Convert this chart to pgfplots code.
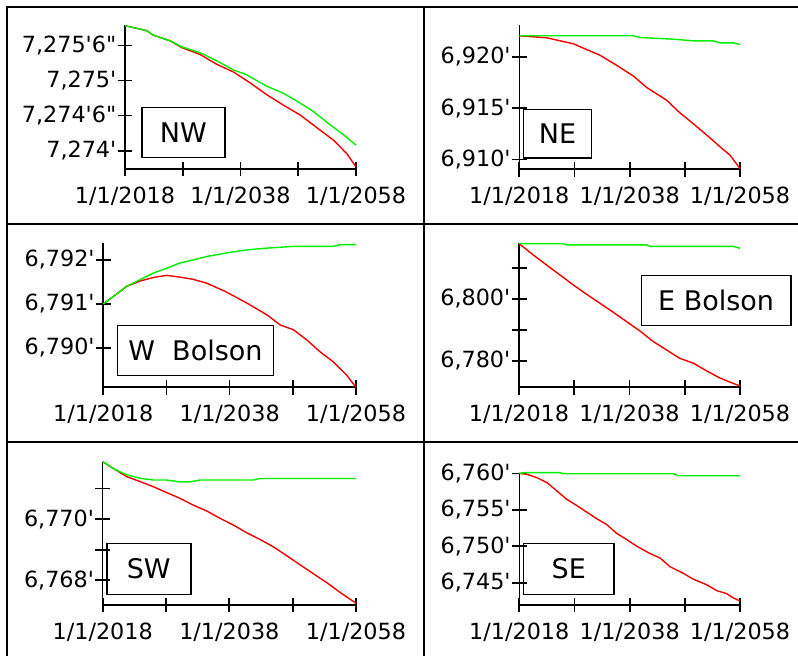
\documentclass[border=0pt]{standalone}
\usepackage{pgfplots}
\pgfplotsset{compat=1.18}
\usepackage{fontspec}
\newfontfamily\df{DejaVu Sans}
\definecolor{lgreen}{RGB}{0,240,0}
\definecolor{lred}{RGB}{245,0,0}
\pgfplotsset{
  panel/.style={
    scale only axis,
    anchor=south west,
    axis x line*=bottom, axis y line*=left,
    xmin=2018, xmax=2058,
    xtick={2018,2028,2038,2048,2058},
    xticklabels={1/1/2018,,1/1/2038,,1/1/2058},
    extra x ticks={2018,2028,2038,2048,2058},
    extra x tick labels={},
    extra x tick style={tick align=inside},
    extra y tick style={tick align=inside},
    tick align=outside,
    major tick length=7.5pt,
    every tick/.append style={black, line width=1.7pt},
    axis line style={black, line width=1.6pt},
    tick label style={font=\df\fontsize{22.3}{26}\selectfont, inner sep=1pt},
    xticklabel style={yshift=-9pt},
    yticklabel style={xshift=0pt},
    clip=false,
  },
  rl/.style={color=lred, line width=1.4pt, no markers},
  gl/.style={color=lgreen, line width=1.4pt, no markers},
}
\tikzset{lab/.style={draw, line width=1.5pt, anchor=north west, inner sep=0pt, font=\df\fontsize{27}{32}\selectfont}}
\begin{document}
\begin{tikzpicture}[x=1pt,y=1pt]
\useasboundingbox (0,0) rectangle (798,656);
% panel borders
\draw[line width=2pt] (6.7,0) -- (6.7,648.7) -- (798,648.7);
\draw[line width=2pt] (424,0) -- (424,648.7);
\draw[line width=2pt] (6.7,432) -- (798,432);
\draw[line width=2pt] (6.7,214) -- (798,214);

% NW
\begin{axis}[panel, at={(125pt,487pt)}, width=231pt, height=144pt,
  ymin=7273.74, ymax=7275.79,
  ytick={7274,7274.5,7275,7275.5}, extra y ticks={7274,7274.5,7275,7275.5}, extra y tick labels={},
  yticklabels={{7,274'},{7,274'6"},{7,275'},{7,275'6"}}]
\addplot[rl] coordinates {(2018,7275.78) (2021.75,7275.71) (2022.9,7275.645) (2025.8,7275.565) (2027.8,7275.47) (2031.0,7275.37) (2033.9,7275.23) (2036.8,7275.12) (2039.6,7274.97) (2042.5,7274.80) (2045.4,7274.65) (2048.3,7274.51) (2051.2,7274.33) (2054.1,7274.15) (2056.4,7273.96) (2058,7273.77)};
\addplot[gl] coordinates {(2018,7275.78) (2021.75,7275.71) (2022.9,7275.645) (2025.8,7275.565) (2027.8,7275.48) (2031.0,7275.395) (2033.9,7275.28) (2036.8,7275.15) (2039.1,7275.08) (2042.5,7274.92) (2045.4,7274.82) (2048.3,7274.68) (2050.6,7274.56) (2053.5,7274.37) (2055.8,7274.23) (2058,7274.08)};
\end{axis}

% NE
\begin{axis}[panel, at={(519.3pt,486.7pt)}, width=220.7pt, height=144.3pt,
  ymin=6909.05, ymax=6923.1,
  ytick={6910,6915,6920}, extra y ticks={6910,6915,6920}, extra y tick labels={},
  yticklabels={{6,910'},{6,915'},{6,920'}}]
\addplot[rl] coordinates {(2018,6922.05) (2020.5,6921.95) (2023.0,6921.85) (2025.4,6921.56) (2027.8,6921.27) (2030.2,6920.71) (2032.6,6920.16) (2035.6,6919.19) (2038.7,6918.12) (2041.1,6917.01) (2044.7,6915.78) (2047.1,6914.55) (2049.5,6913.5) (2052.0,6912.37) (2054.4,6911.23) (2056.2,6910.42) (2058,6909.12)};
\addplot[gl] coordinates {(2018,6922.05) (2038.7,6922.05) (2039.9,6921.88) (2045.9,6921.72) (2049.5,6921.56) (2053.1,6921.56) (2054.4,6921.36) (2056.8,6921.36) (2058,6921.2)};
\end{axis}

% W Bolson
\begin{axis}[panel, at={(103.3pt,268.7pt)}, width=252.7pt, height=144pt,
  ymin=6789.10, ymax=6792.38,
  ytick={6790,6791,6792}, extra y ticks={6790,6791,6792}, extra y tick labels={},
  yticklabels={{6,790'},{6,791'},{6,792'}}]
\addplot[rl] coordinates {(2018,6791.0) (2019.6,6791.17) (2021.7,6791.40) (2023.8,6791.52) (2025.9,6791.60) (2028.0,6791.65) (2030.1,6791.61) (2032.2,6791.56) (2034.4,6791.47) (2037.5,6791.27) (2040.7,6791.02) (2043.9,6790.75) (2046.0,6790.52) (2048.1,6790.41) (2050.2,6790.18) (2052.3,6789.91) (2054.4,6789.68) (2056.5,6789.38) (2058,6789.10)};
\addplot[gl] coordinates {(2018,6791.0) (2019.6,6791.17) (2021.7,6791.40) (2023.8,6791.55) (2025.9,6791.70) (2028.0,6791.81) (2030.1,6791.93) (2032.2,6792.00) (2034.4,6792.08) (2037.5,6792.16) (2040.7,6792.23) (2043.9,6792.27) (2048.1,6792.31) (2054.4,6792.31) (2055.5,6792.35) (2058,6792.35)};
\end{axis}

% E Bolson
\begin{axis}[panel, at={(519pt,268.7pt)}, width=221pt, height=144pt,
  ymin=6771.45, ymax=6817.9,
  ytick={6780,6790,6800,6810}, extra y ticks={6780,6790,6800,6810}, extra y tick labels={},
  yticklabels={{6,780'},{},{6,800'},{}}]
\addplot[rl] coordinates {(2018,6817.8) (2020.6,6814.1) (2023.0,6810.9) (2025.4,6807.7) (2027.8,6804.5) (2030.2,6801.5) (2032.7,6798.5) (2035.1,6795.6) (2037.5,6792.6) (2039.9,6789.6) (2042.3,6786.2) (2044.7,6783.5) (2047.1,6780.8) (2049.6,6779.2) (2052.0,6776.7) (2054.4,6774.4) (2056.8,6772.7) (2058,6771.9)};
\addplot[gl] coordinates {(2018,6817.8) (2026.0,6817.8) (2026.6,6817.4) (2041.1,6817.4) (2041.7,6816.9) (2056.8,6816.9) (2058,6816.3)};
\end{axis}

% SW
\begin{axis}[panel, at={(102.7pt,51pt)}, width=253.3pt, height=143.3pt,
  ymin=6767.19, ymax=6771.88,
  ytick={6768,6769,6770,6771}, extra y ticks={6768,6769,6770,6771}, extra y tick labels={},
  yticklabels={{6,768'},{},{6,770'},{}}]
\addplot[rl] coordinates {(2018,6771.88) (2019.9,6771.63) (2021.8,6771.39) (2023.9,6771.23) (2026.0,6771.06) (2028.1,6770.87) (2030.2,6770.68) (2032.3,6770.46) (2034.4,6770.27) (2036.5,6770.03) (2038.6,6769.81) (2040.7,6769.56) (2042.8,6769.34) (2044.9,6769.10) (2047.1,6768.80) (2049.2,6768.50) (2051.3,6768.21) (2053.4,6767.92) (2055.5,6767.60) (2058,6767.25)};
\addplot[gl] coordinates {(2018,6771.88) (2019.9,6771.63) (2021.8,6771.45) (2023.9,6771.34) (2026.0,6771.28) (2028.1,6771.28) (2030.2,6771.22) (2031.8,6771.22) (2033.4,6771.28) (2041.8,6771.28) (2042.8,6771.33) (2058,6771.33)};
\end{axis}

% SE
\begin{axis}[panel, at={(519.3pt,51pt)}, width=220.7pt, height=132.3pt,
  ymin=6741.94, ymax=6760.1,
  ytick={6745,6750,6755,6760}, extra y ticks={6745,6750,6755,6760}, extra y tick labels={},
  yticklabels={{6,745'},{6,750'},{6,755'},{6,760'}}]
\addplot[rl] coordinates {(2018,6760.0) (2019.3,6759.9) (2021.1,6759.45) (2023.0,6758.75) (2024.8,6757.6) (2026.6,6756.45) (2028.4,6755.6) (2030.2,6754.7) (2032.0,6753.8) (2033.8,6753.0) (2035.6,6751.8) (2037.5,6750.9) (2039.3,6750.0) (2041.7,6749.0) (2043.5,6748.4) (2045.3,6747.2) (2047.7,6746.3) (2049.5,6745.5) (2052.0,6744.7) (2053.8,6743.9) (2055.6,6743.5) (2056.8,6742.9) (2058,6742.5)};
\addplot[gl] coordinates {(2018,6760.0) (2018.7,6760.1) (2025.4,6760.1) (2026.0,6759.95) (2045.9,6759.95) (2046.8,6759.68) (2058,6759.68)};
\end{axis}

% label boxes
\node[lab, minimum width=83pt, minimum height=50pt] at (141,549) {NW};
\node[lab, minimum width=68pt, minimum height=48.6pt] at (522.7,547.3) {NE};
\node[lab, minimum width=156pt, minimum height=50pt] at (116.7,331) {W\ \ Bolson};
\node[lab, minimum width=149.3pt, minimum height=50pt] at (640.7,381) {E Bolson};
\node[lab, minimum width=84pt, minimum height=51.3pt] at (106,113.3) {SW};
\node[lab, minimum width=90.6pt, minimum height=51.3pt] at (522.7,113.3) {SE};
\end{tikzpicture}
\end{document}
